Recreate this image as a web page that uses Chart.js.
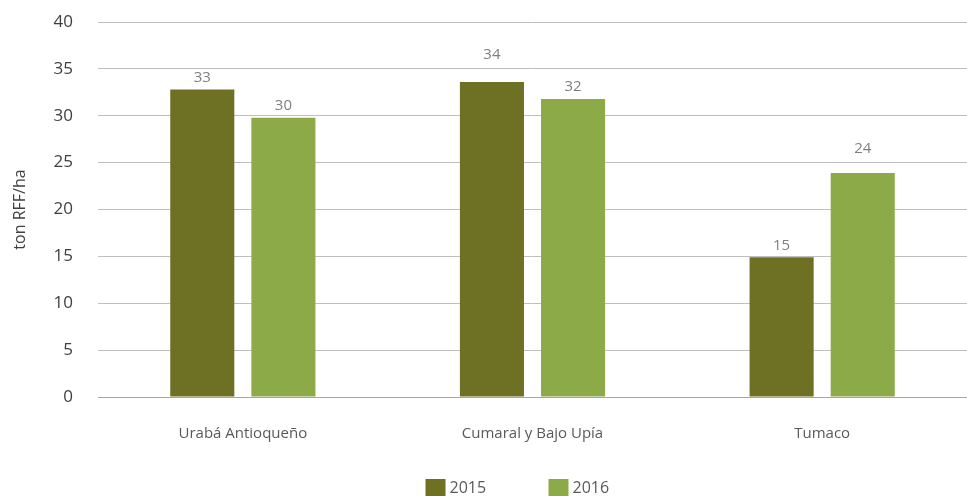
<!DOCTYPE html>
<html>
<head>
<meta charset="utf-8">
<script src="https://cdn.jsdelivr.net/npm/chart.js"></script>
<style>
  html, body { margin: 0; padding: 0; background: #fff; }
  #wrap { width: 967px; height: 496px; }
</style>
</head>
<body>
<div id="wrap"><canvas id="grafico" width="967" height="496"></canvas></div>
<script>
// dati del grafico
const regioni = ['Urabá Antioqueño', 'Cumaral y Bajo Upía', 'Tumaco'];
const anni = ['2015', '2016'];
const val2015 = [32.8, 33.6, 14.9];
const val2016 = [29.8, 31.8, 23.9];
const colori = ['#6e7023', '#8cab48'];

const fontFam = '"Open Sans", "DejaVu Sans", sans-serif';

// etichette sopra le barre (spostate sopra la griglia se ci finiscono sopra)
const etichette = {
  id: 'etichette',
  afterDatasetsDraw(chart) {
    const ctx = chart.ctx;
    const griglia = chart.scales.y.ticks.map(t => chart.scales.y.getPixelForValue(t.value));
    ctx.save();
    ctx.font = '15px ' + fontFam;
    ctx.fillStyle = '#7f7f7f';
    ctx.textAlign = 'center';
    ctx.textBaseline = 'middle';
    chart.data.datasets.forEach((ds, i) => {
      const meta = chart.getDatasetMeta(i);
      meta.data.forEach((bar, j) => {
        let y = bar.y - 12;
        griglia.forEach(p => {
          if (p > y - 8 && p < y + 8) y = p - 14;
        });
        ctx.fillText(Math.round(ds.data[j]), bar.x, y);
      });
    });
    ctx.restore();
  }
};

// legenda in basso, piu' spaziata di quella standard
const legenda = {
  id: 'legenda',
  afterDraw(chart) {
    const ctx = chart.ctx;
    ctx.save();
    ctx.font = '16px ' + fontFam;
    ctx.textBaseline = 'middle';
    ctx.textAlign = 'left';
    let x = chart.width / 2 - 58;
    const yc = chart.height - 8;
    chart.data.datasets.forEach((ds) => {
      ctx.fillStyle = ds.backgroundColor;
      ctx.fillRect(x, yc - 9, 20, 18);
      ctx.fillStyle = '#595959';
      ctx.fillText(ds.label, x + 24, yc);
      x += 123;
    });
    ctx.restore();
  }
};

new Chart(document.getElementById('grafico'), {
  type: 'bar',
  data: {
    labels: regioni,
    datasets: [
      { label: anni[0], data: val2015, backgroundColor: colori[0] },
      { label: anni[1], data: val2016, backgroundColor: colori[1] }
    ]
  },
  options: {
    responsive: false,
    animation: false,
    categoryPercentage: 0.56,
    barPercentage: 0.79,
    layout: { padding: { top: 22, right: 0, left: 0, bottom: 0 } },
    plugins: {
      legend: { display: false },
      tooltip: { enabled: false }
    },
    scales: {
      x: {
        grid: { display: false },
        border: { color: '#a6a6a6', width: 1 },
        ticks: { color: '#595959', padding: 20, font: { family: fontFam, size: 15 } },
        afterFit(scale) { scale.height = 99; }
      },
      y: {
        min: 0,
        max: 40,
        ticks: { stepSize: 5, color: '#404040', padding: 3, font: { family: fontFam, size: 17 } },
        grid: { color: '#bfbfbf', lineWidth: 1, drawTicks: true, tickLength: 22, tickColor: 'rgba(0,0,0,0)' },
        border: { display: false },
        title: {
          display: true,
          text: 'ton RFF/ha',
          color: '#404040',
          font: { family: fontFam, size: 16 },
          padding: { top: 11, bottom: 0 }
        },
        afterFit(scale) { scale.width = 98; }
      }
    }
  },
  plugins: [etichette, legenda]
});
</script>
</body>
</html>
